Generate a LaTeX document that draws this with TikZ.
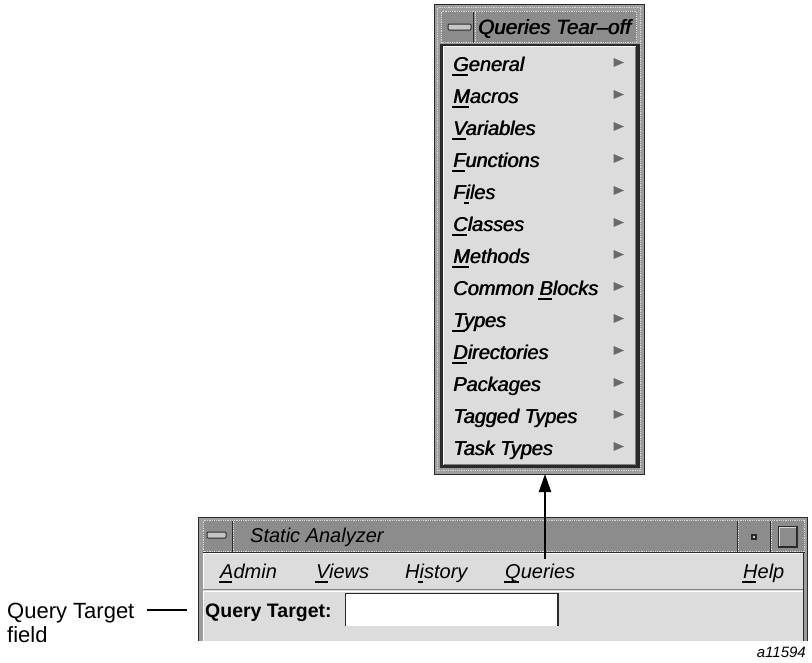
\documentclass[tikz,border=0pt]{standalone}
\usepackage{fontspec}
\setmainfont{Liberation Sans}
\usetikzlibrary{arrows.meta}
\definecolor{framegray}{HTML}{9C9C9C}
\definecolor{titlegray}{HTML}{8C8C8C}
\definecolor{panelgray}{HTML}{DCDCDC}
\definecolor{edgedark}{HTML}{2A2A2A}
\definecolor{dotlight}{HTML}{D8D8D8}
\definecolor{trigray}{HTML}{6A6A6A}
\newcommand\mnem[1]{\setbox0=\hbox{#1}\rlap{\kern-1.5pt\rule[-4.5pt]{\wd0}{1.6pt}}#1}
\newcommand\heavy[1]{\rlap{#1}\kern0.7pt#1}
\begin{document}
\begin{tikzpicture}[x=1pt,y=-1pt,
  tearitem/.style={anchor=base west, inner sep=0, font=\itshape\fontsize{19.9}{22}\selectfont},
  baritem/.style={anchor=base west, inner sep=0, font=\itshape\fontsize{20}{22}\selectfont},
  dotline/.style={dotlight, densely dotted, line width=0.8pt},
  sep/.style={edgedark, line width=0.6pt}]
\useasboundingbox (0,0) rectangle (812,662);
% ---------------- tear-off window ----------------
\node[name=tear, draw=edgedark, fill=framegray, line width=1pt, minimum width=210pt,
      minimum height=470pt, inner sep=0, anchor=north west] at (434,4) {};
\draw[dotline] (437.5,7.5) rectangle (640.5,470.5);
\fill[titlegray] (441,11) rectangle (637,43);
\draw[dotline] (441.5,11.5) rectangle (636.5,42.5);
\draw[sep] (473.5,11.5) -- (473.5,42.5);
\draw[dotline] (475,11.5) -- (475,42.5);
\draw[edgedark, fill=gray!45, line width=1pt, rounded corners=1pt] (448,24) rectangle (471,30);
\node[anchor=base west, inner sep=0, font=\itshape\fontsize{20.6}{22}\selectfont] (teartitle) at (478,34) {\heavy{Queries Tear–off}};
\fill[edgedark] (440,44) rectangle (640,468);
\fill[panelgray] (443,46) rectangle (636,465);
\draw[white, line width=1pt] (443.5,465) -- (443.5,46.5) -- (636,46.5);
\draw[gray, line width=1pt] (444,464.5) -- (635.5,464.5) -- (635.5,47);
\foreach \t [count=\i from 0] in {{\mnem{G}eneral},{\mnem{M}acros},{\mnem{V}ariables},
  {\mnem{F}unctions},{F\mnem{i}les},{\mnem{C}lasses},{\mnem{M}ethods},{Common \mnem{B}locks},
  {\mnem{T}ypes},{\mnem{D}irectories},{Packages},{Tagged Types},{Task Types}}{
  \pgfmathsetmacro\yb{71+32*\i}
  \node[tearitem] (item\i) at (453,\yb) {\heavy{\t}};
  \fill[trigray] (613.5,{\yb-13}) -- (624,{\yb-8.5}) -- (613.5,{\yb-4}) -- cycle;
}
% ---------------- Static Analyzer window ----------------
\fill[framegray] (198,517) rectangle (808,641);
\draw[edgedark, line width=1pt] (198.5,641) -- (198.5,517.5) -- (807.5,517.5) -- (807.5,641);
\fill[titlegray] (203,520) rectangle (805,552);
\draw[dotline] (203.5,520.5) rectangle (804.5,551.5);
\foreach \sx in {233,738,771}{
  \draw[sep] (\sx-1,520.5) -- (\sx-1,551.5);
  \draw[dotline] (\sx+0.5,520.5) -- (\sx+0.5,551.5);
}
\draw[edgedark, fill=gray!45, line width=1pt, rounded corners=1pt] (207,532) rectangle (226,538);
\node[baritem] (satitle) at (250,542) {Static Analyzer};
\fill[edgedark] (751,534) rectangle (757,540);
\fill[gray!40] (752.5,535.5) rectangle (755,538);
\draw[edgedark, line width=1.4pt, fill=titlegray] (779,527) rectangle (797,547);
\draw[dotlight, line width=0.8pt] (779.5,546) -- (779.5,527.5) -- (796,527.5);
\draw[edgedark, line width=1pt] (203,552.5) -- (805,552.5);
\fill[panelgray] (203,553) rectangle (803,589);
\draw[white, line width=1pt] (203.5,589) -- (203.5,553.5) -- (803,553.5);
\draw[gray, line width=1.2pt] (203,589.6) -- (803,589.6);
\fill[panelgray] (203,590.2) rectangle (803,641);
\draw[white, line width=1pt] (203.5,641) -- (203.5,591) -- (803,591);
\draw[edgedark, line width=1pt] (803.5,553) -- (803.5,641);
\node[baritem] (admin) at (220,578) {\mnem{A}dmin};
\node[baritem] (views) at (316,578) {\mnem{V}iews};
\node[baritem] (history) at (405,578) {H\mnem{i}story};
\node[baritem] (queries) at (505,578) {\mnem{Q}ueries};
\node[baritem] (help) at (743,578) {\mnem{H}elp};
\node[anchor=base west, inner sep=0, font=\bfseries\fontsize{19.5}{22}\selectfont] (qtarget) at (205,617) {Query Target:};
\fill[white] (345,593) rectangle (558,626);
\draw[edgedark, line width=1.2pt] (345.6,626) -- (345.6,593.6) -- (558,593.6) -- (558,626);
\node[inner sep=0, minimum width=213pt, minimum height=33pt, anchor=north west] (qfield) at (345,593) {};
% ---------------- arrow ----------------
\coordinate (arrowfoot) at (545,559);
\draw[line width=2.2pt, -{Triangle[length=18pt,width=12pt]}, shorten >=-1pt] (arrowfoot) -- (arrowfoot |- tear.south);
% ---------------- callout ----------------
\node[anchor=base west, inner sep=0, font=\fontsize{22}{24}\selectfont] (qtlabel) at (7,618) {Query Target};
\node[anchor=base west, inner sep=0, font=\fontsize{22}{24}\selectfont] (qtfield) at (7,642) {field};
\coordinate (leadA) at (147,610);
\coordinate (leadB) at (187,610);
\draw[line width=1.3pt] (leadA) -- (leadB);
\node[anchor=base east, inner sep=0, font=\itshape\fontsize{15}{17}\selectfont] (fignum) at (806,657) {a11594};
\end{tikzpicture}
\end{document}
